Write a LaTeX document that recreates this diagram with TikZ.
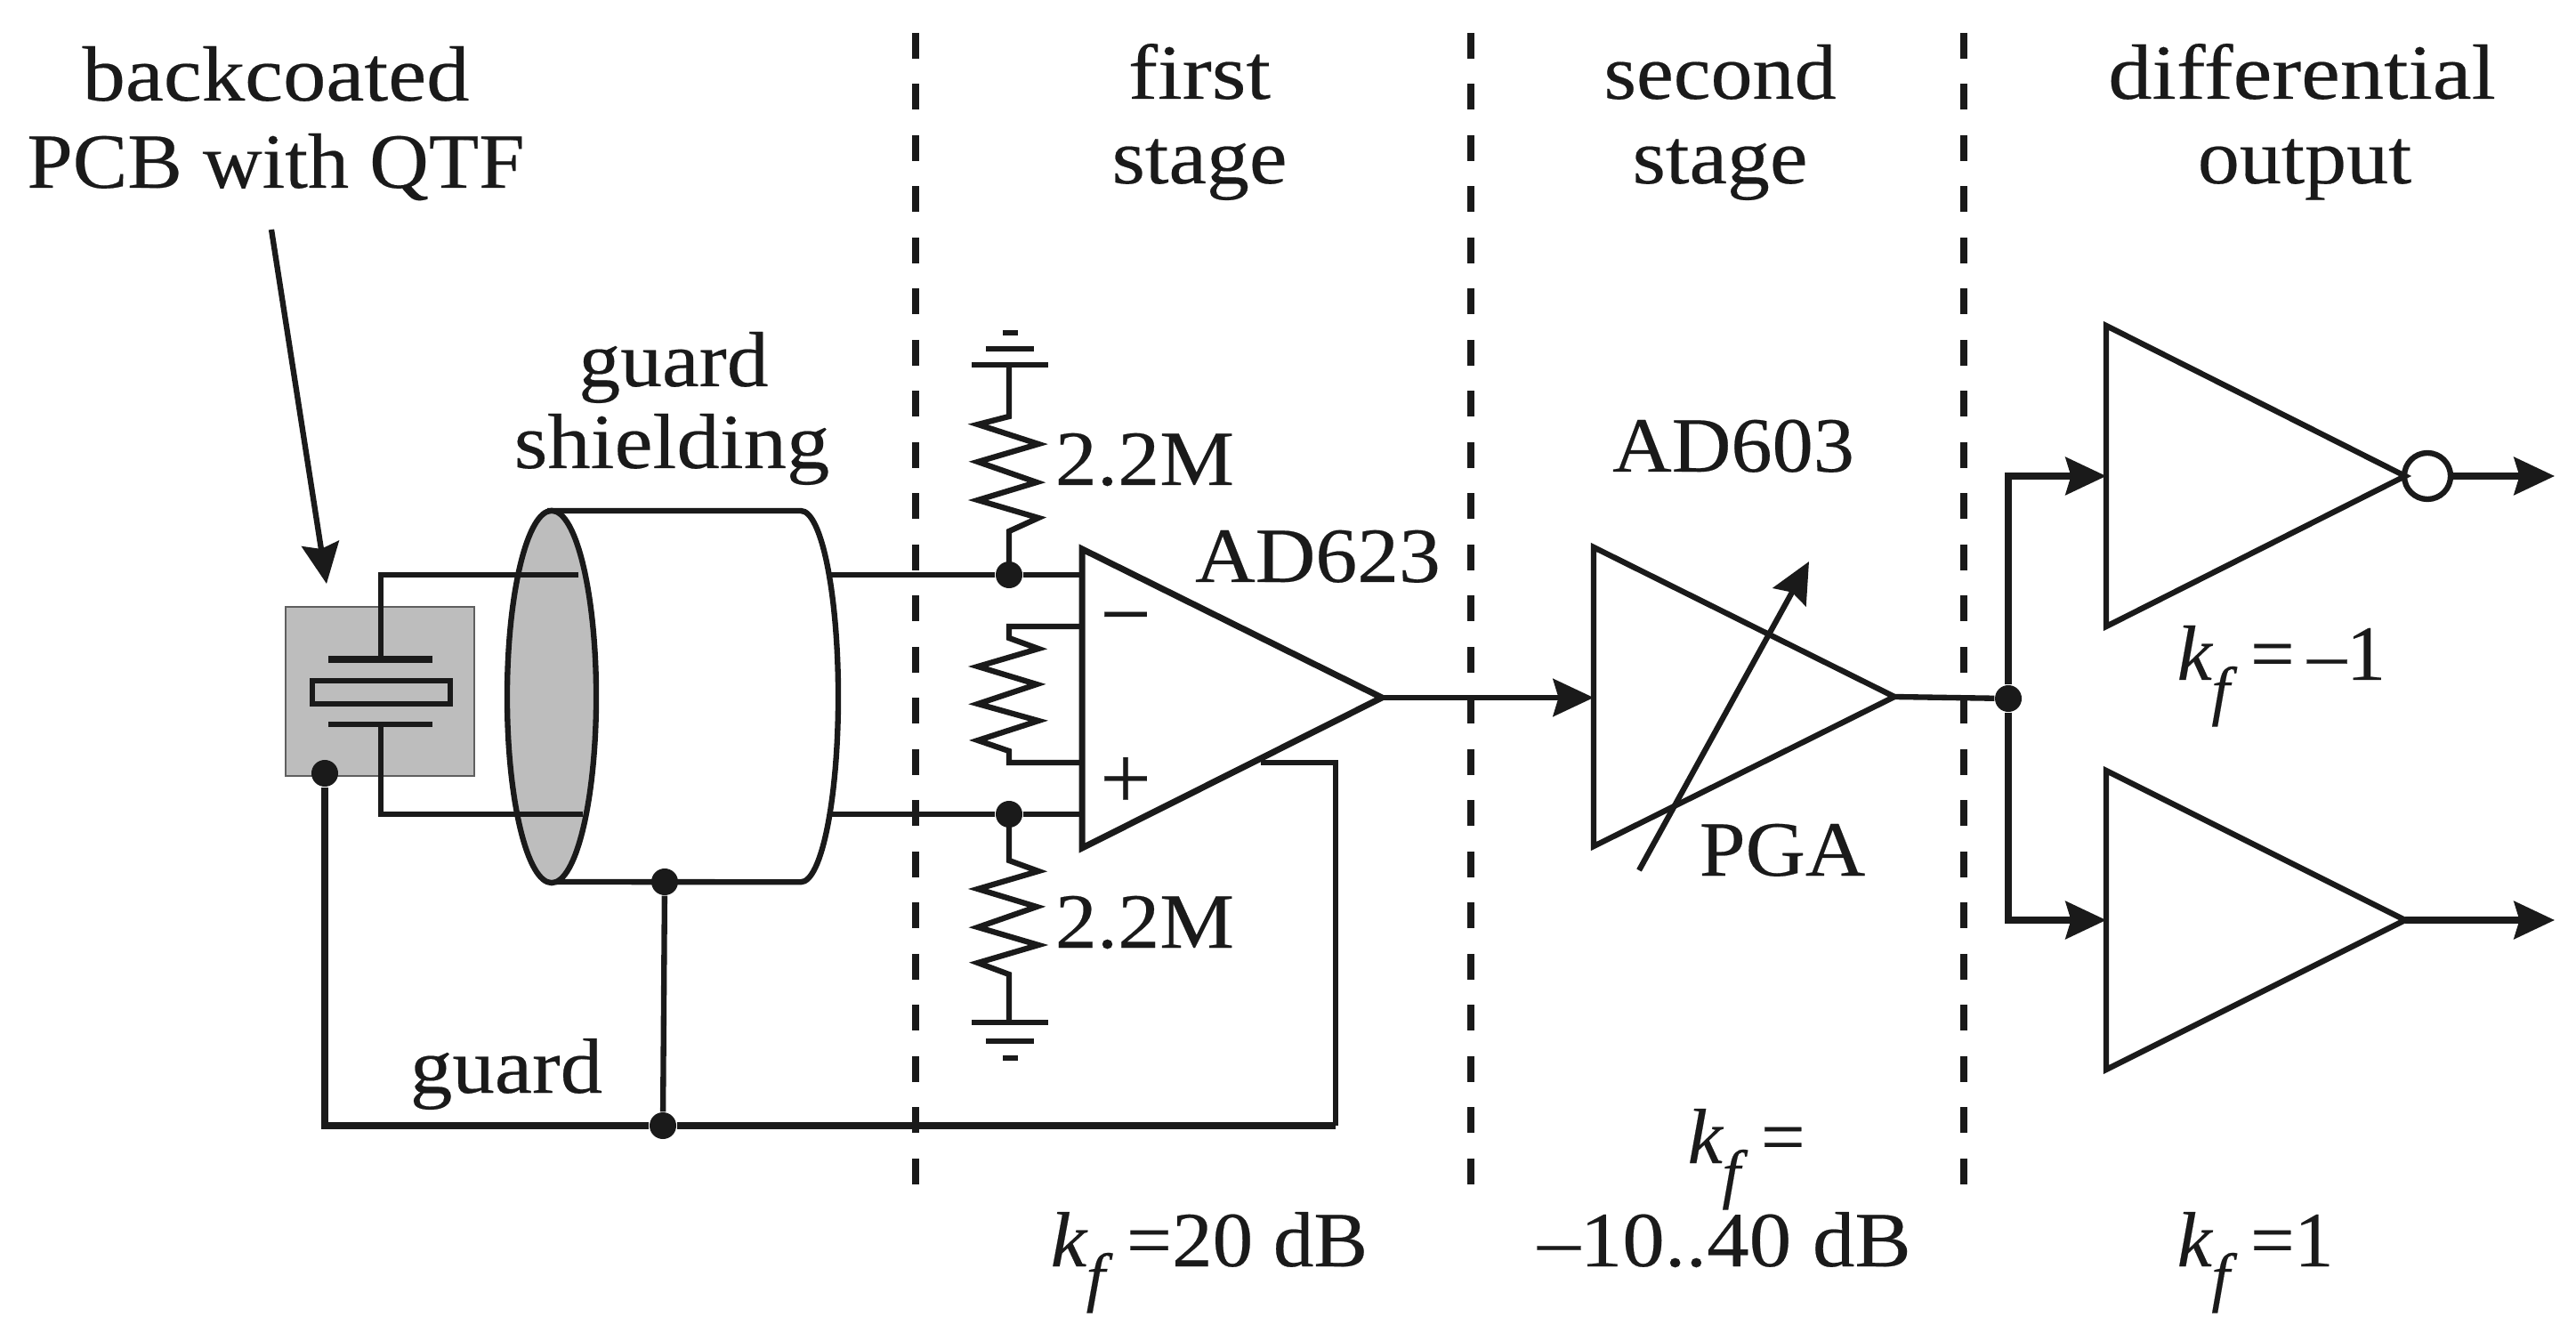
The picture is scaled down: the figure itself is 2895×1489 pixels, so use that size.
\documentclass[tikz,border=0pt]{standalone}
\usepackage{fontspec}
\setmainfont[FakeBold=0.25]{Liberation Serif}
\usetikzlibrary{arrows.meta}
\definecolor{ink}{HTML}{1A1A1A}
\definecolor{shade}{HTML}{BDBDBD}
\newcommand{\kfsym}{\textit{k}\kern-0.02em\raisebox{-0.42em}{\fontsize{21}{21}\selectfont\textit{f}}}
\newcommand{\sx}[2]{\scalebox{#1}[1]{#2}}
\tikzset{
  wire/.style={draw=ink,line width=1.8pt,line join=miter},
  arrowed/.style={wire,-{Stealth[length=1.3mm*3.5,width=1.2mm*3.5,inset=0.6mm]}},
  heavy arrowed/.style={arrowed,line width=2.2pt},
  divider/.style={draw=ink,line width=2.2pt,dash pattern=on 8.25pt off 8.1pt},
  dot/.style={circle,fill=ink,draw=none,minimum size=0.3cm,inner sep=0pt},
  bubble/.style={circle,fill=white,draw=ink,line width=1.8pt,minimum size=0.52cm,inner sep=0pt},
  txt/.style={text=ink,font=\fontsize{25}{25}\selectfont,inner sep=0pt,anchor=base},
  sign/.style={text=ink,font=\fontsize{29}{29}\selectfont,inner sep=0pt},
}
\begin{document}
\begin{tikzpicture}[x=0.01cm,y=-0.01cm]
\useasboundingbox (0,0) rectangle (2895,1489);
% coordinates
\coordinate (boxA) at (321,682);
\coordinate (boxB) at (533,872);
\coordinate (qtop) at (428,646);
\coordinate (qbot) at (428,915);
\coordinate (in1) at (650,646);
\coordinate (in2) at (655,915);
\coordinate (out1) at (934,646);
\coordinate (out2) at (934,915);
\coordinate (cylTL) at (615,574);
\coordinate (cylTR) at (900,574);
\coordinate (cylBL) at (615,991);
\coordinate (cylBR) at (900,991);
\coordinate (oaT) at (1216,617);
\coordinate (oaB) at (1216,953);
\coordinate (oaA) at (1553,784);
\coordinate (oaN) at (1216,646);
\coordinate (oaP) at (1216,915);
\coordinate (oaR1) at (1216,704);
\coordinate (oaR2) at (1216,857);
\coordinate (fb) at (1417,857);
\coordinate (fbc) at (1501,857);
\coordinate (busR) at (1501,1265);
\coordinate (pgaT) at (1791,615);
\coordinate (pgaB) at (1791,951);
\coordinate (pgaA) at (2129,783);
\coordinate (pgaI) at (1791,784);
\coordinate (pgaS) at (1842,978);
\coordinate (pgaE) at (2033,631);
\coordinate (b1T) at (2367,366);
\coordinate (b1B) at (2367,704);
\coordinate (b1A) at (2703,535);
\coordinate (b1I) at (2367,535);
\coordinate (b2T) at (2367,866);
\coordinate (b2B) at (2367,1202);
\coordinate (b2A) at (2703,1034);
\coordinate (b2I) at (2367,1034);
\coordinate (b1O) at (2871,535);
\coordinate (b2O) at (2871,1034);
\coordinate (pcbS) at (305,258);
\coordinate (pcbE) at (367,656);
% PCB
\draw[draw=ink!70,line width=0.6pt,fill=shade] (boxA) rectangle (boxB);
% cylinder
\draw[wire] (cylTL) -- (cylTR) arc[start angle=90,end angle=-90,x radius=0.42cm,y radius=2.085cm] -- (cylBL);
\draw[wire,fill=shade] (620,783) ellipse [x radius=0.5cm,y radius=2.09cm];
% quartz
\draw[wire] (in1) -- (qtop) -- (428,741);
\draw[wire] (in2) -- (qbot) -- (428,814);
\draw[wire,line width=2.4pt] (369,741) -- (486,741);
\draw[wire] (369,814) -- (486,814);
\draw[wire,fill=none] (351,765) rectangle (506,791);
% guard nodes
\node[dot] (dotP) at (365,869) {};
\node[dot] (dotC) at (747,991) {};
\node[dot] (dotB) at (745,1265) {};
\node[dot] (dotU) at (1134,646) {};
\node[dot] (dotL) at (1134,915) {};
\node[dot] (dotO) at (2257,785) {};
\node[bubble] (bub) at (2728,535) {};
% wires right of cylinder
\draw[wire] (out1) -- (dotU) -- (oaN);
\draw[wire] (out2) -- (dotL) -- (oaP);
% resistors
\draw[wire,line join=miter] (dotU.center) -- (1134,597) -- (1167,582) -- (1099,562) -- (1165,542) -- (1099,519) -- (1167,499) -- (1099,477) -- (1134,468) -- (1134,410);
\draw[wire] (oaR1) -- (1134,704) -- (1134,717) -- (1167,729) -- (1099,749) -- (1165,769) -- (1099,791) -- (1167,810) -- (1099,832) -- (1134,844) -- (1134,857) -- (oaR2);
\draw[wire] (dotL.center) -- (1134,967) -- (1167,979) -- (1099,999) -- (1165,1019) -- (1099,1042) -- (1167,1062) -- (1099,1082) -- (1134,1095) -- (1134,1149);
% grounds
\draw[wire] (1092,410) -- (1178,410);
\draw[wire] (1108,392) -- (1162,392);
\draw[wire] (1127,374) -- (1144,374);
\draw[wire] (1092,1149) -- (1178,1149);
\draw[wire] (1108,1170) -- (1162,1170);
\draw[wire] (1127,1189) -- (1144,1189);
% op amp
\draw[wire,line width=2pt] (oaT) -- (oaA) -- (oaB) -- cycle;
\node[sign] (minus) at (1265,706) {−};
\node[sign] (plus) at (1265,880) {+};
% feedback and bus
\draw[wire] (fb) -- (fbc) -- (busR);
\draw[wire,line width=2.2pt] (busR) -- (dotB) -- (365,1265) -- (dotP);
\draw[wire] (dotB) -- (dotC);
% PGA
\draw[arrowed] (oaA) -- (pgaI);
\draw[wire] (pgaT) -- (pgaA) -- (pgaB) -- cycle;
\draw[arrowed] (pgaS) -- (pgaE);
\draw[wire] (pgaA) -- (dotO);
% buffers
\draw[wire] (b1T) -- (b1A) -- (b1B) -- cycle;
\draw[wire] (b2T) -- (b2A) -- (b2B) -- cycle;
\draw[heavy arrowed] (dotO) |- (b1I);
\draw[heavy arrowed] (dotO) |- (b2I);
\draw[heavy arrowed] (bub) -- (b1O);
\draw[heavy arrowed] (b2A) -- (b2O);
% label arrow
\draw[arrowed] (pcbS) -- (pcbE);
% dividers
\coordinate (d1a) at (1029,37); \coordinate (d1b) at (1029,1335);
\coordinate (d2a) at (1653,37); \coordinate (d2b) at (1653,1335);
\coordinate (d3a) at (2207,37); \coordinate (d3b) at (2207,1335);
\draw[divider] (d1a) -- (d1b);
\draw[divider] (d2a) -- (d2b);
\draw[divider] (d3a) -- (d3b);
% text
\node[txt] (t1) at (310,113) {\sx{1.10}{backcoated}};
\node[txt] (t2) at (310,211) {\sx{1.05}{PCB with QTF}};
\node[txt] (t3) at (1348,111) {\sx{1.13}{first}};
\node[txt] (t4) at (1348,206) {\sx{1.09}{stage}};
\node[txt] (t5) at (1933,111) {\sx{1.07}{second}};
\node[txt] (t6) at (1933,206) {\sx{1.09}{stage}};
\node[txt] (t7) at (2587,111) {\sx{1.12}{differential}};
\node[txt] (t8) at (2590,206) {\sx{1.07}{output}};
\node[txt] (t9) at (757,434) {\sx{1.065}{guard}};
\node[txt] (t10) at (755,526) {\sx{1.10}{shielding}};
\node[txt] (t11) at (569,1228) {\sx{1.08}{guard}};
\node[txt,anchor=base west] (t12) at (1185,545) {\sx{1.07}{2.2M}};
\node[txt,anchor=base west] (t13) at (1185,1065) {\sx{1.07}{2.2M}};
\node[txt] (t14) at (1481,654) {\sx{1.065}{AD623}};
\node[txt] (t15) at (1948,530) {\sx{1.05}{AD603}};
\node[txt] (t16) at (2003,984) {\sx{1.06}{PGA}};
\node[txt,anchor=base west] (t17) at (2446,764) {\kfsym\,=\,–1};
\node[txt,anchor=base west] (t18) at (1180,1423) {\sx{1.035}{\kfsym\,=20 dB}};
\node[txt,anchor=base west] (t19) at (1896,1307) {\kfsym\,=};
\node[txt] (t20) at (1938,1423) {\sx{1.08}{–10..40 dB}};
\node[txt,anchor=base west] (t21) at (2446,1423) {\kfsym\,=1};
\end{tikzpicture}
\end{document}
